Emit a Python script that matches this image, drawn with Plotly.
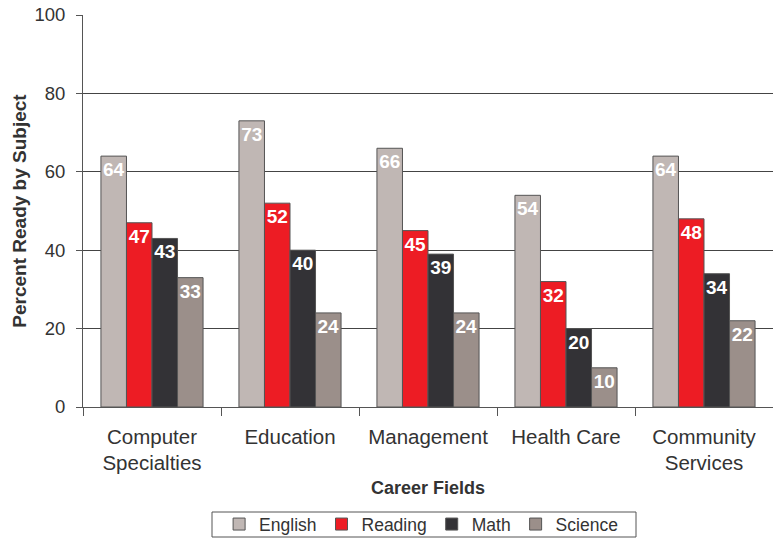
import plotly.graph_objects as go

categories = ["Computer<br>Specialties", "Education", "Management", "Health Care", "Community<br>Services"]
english = [64, 73, 66, 54, 64]
reading = [47, 52, 45, 32, 48]
math = [43, 40, 39, 20, 34]
science = [33, 24, 24, 10, 22]
series_names = ["English", "Reading", "Math", "Science"]
colors = ["#c0b7b4", "#ed1c24", "#333236", "#9b8f8a"]

FONT = "Liberation Sans, Arial"

fig = go.Figure()
for name, vals, col in zip(series_names, [english, reading, math, science], colors):
    fig.add_trace(go.Bar(
        name=name, x=categories, y=vals,
        marker=dict(color=col, line=dict(color="#555555", width=1)),
        text=[str(v) for v in vals], textposition="inside", insidetextanchor="end",
        textfont=dict(color="white", size=19, family=FONT, weight="bold"),
        textangle=0, cliponaxis=False,
    ))

# legend frame (layout decoration), paper coordinates
PLOT_L, PLOT_W, PLOT_B, PLOT_H = 83, 690, 407, 392
fig.add_shape(type="rect", xref="paper", yref="paper",
              x0=(212 - PLOT_L) / PLOT_W, x1=(636 - PLOT_L) / PLOT_W,
              y0=(PLOT_B - 537) / PLOT_H, y1=(PLOT_B - 512) / PLOT_H,
              line=dict(color="#555555", width=1), fillcolor="rgba(0,0,0,0)")

fig.update_layout(
    width=773, height=540,
    barmode="group", bargap=0.26, bargroupgap=0,
    plot_bgcolor="white", paper_bgcolor="rgba(0,0,0,0)",
    margin=dict(l=83, r=0, t=15, b=133, autoexpand=False),
    font=dict(family=FONT, color="#333333", size=19),
    showlegend=True,
    legend=dict(orientation="h", x=0.49, xanchor="center", y=-0.253, yanchor="top",
                bgcolor="rgba(0,0,0,0)", borderwidth=0, font=dict(size=17.5),
                traceorder="normal", itemwidth=30),
    uniformtext=dict(mode="show", minsize=19),
)
fig.update_xaxes(
    showline=True, linecolor="#555555", linewidth=1, automargin=False,
    ticks="outside", tickson="boundaries", ticklen=8, tickcolor="#555555",
    tickfont=dict(size=20.5, color="#333333"), ticklabelstandoff=11,
    title=dict(text="<b>Career Fields</b>", font=dict(size=18, color="#333333"), standoff=8),
)
fig.update_yaxes(
    range=[0, 100], dtick=20, showgrid=True, gridcolor="#444444", gridwidth=1,
    showline=True, linecolor="#555555", linewidth=1, automargin=False,
    ticks="outside", ticklen=6, tickcolor="#555555",
    tickfont=dict(size=18.5, color="#333333"), ticklabelstandoff=7,
    title=dict(text="<b>Percent Ready by Subject</b>", font=dict(size=19, color="#333333"), standoff=2),
    zeroline=False,
)
fig.write_html("out.html", post_script="document.body.style.margin='0px';",
               config={"displayModeBar": False})
